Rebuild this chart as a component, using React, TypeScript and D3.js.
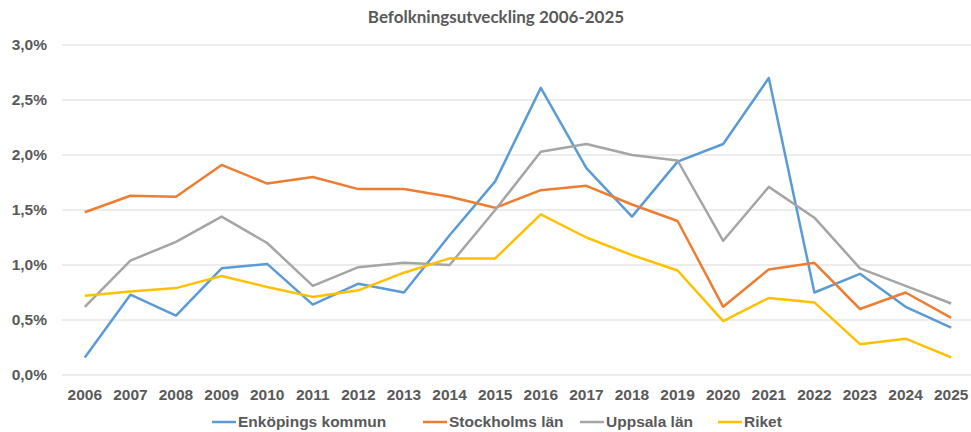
import React from 'react';
import * as d3 from 'd3';

const years = ['2006', '2007', '2008', '2009', '2010', '2011', '2012', '2013', '2014', '2015',
  '2016', '2017', '2018', '2019', '2020', '2021', '2022', '2023', '2024', '2025'];

const enkoping = [0.16, 0.73, 0.54, 0.97, 1.01, 0.64, 0.83, 0.75, 1.27, 1.76,
  2.61, 1.88, 1.44, 1.94, 2.1, 2.7, 0.75, 0.92, 0.62, 0.43];
const stockholm = [1.48, 1.63, 1.62, 1.91, 1.74, 1.8, 1.69, 1.69, 1.62, 1.52,
  1.68, 1.72, 1.55, 1.4, 0.62, 0.96, 1.02, 0.6, 0.75, 0.52];
const uppsala = [0.62, 1.04, 1.21, 1.44, 1.2, 0.81, 0.98, 1.02, 1.0, 1.5,
  2.03, 2.1, 2.0, 1.95, 1.22, 1.71, 1.43, 0.97, 0.81, 0.65];
const riket = [0.72, 0.76, 0.79, 0.9, 0.8, 0.71, 0.77, 0.93, 1.06, 1.06,
  1.46, 1.25, 1.09, 0.95, 0.49, 0.7, 0.66, 0.28, 0.33, 0.16];

const yTicks = [0, 0.5, 1, 1.5, 2, 2.5, 3];

const series = [
  { name: 'Enköpings kommun', values: enkoping, color: '#5B9BD5' },
  { name: 'Stockholms län', values: stockholm, color: '#ED7D31' },
  { name: 'Uppsala län', values: uppsala, color: '#A5A5A5' },
  { name: 'Riket', values: riket, color: '#FFC000' },
];

// legend item starting x positions
const legendX = [212, 423, 580, 718];

const W = 971;
const H = 432;
const margin = { top: 45, right: -3, bottom: 57, left: 62 };

export default function App() {
  const x = d3.scaleBand<string>()
    .domain(years)
    .range([margin.left, W - margin.right]);
  const y = d3.scaleLinear()
    .domain([0, 3])
    .range([H - margin.bottom, margin.top]);

  const line = d3.line<number>()
    .x((_, i) => (x(years[i]) as number) + x.bandwidth() / 2)
    .y(d => y(d));

  const fmt = (v: number) => v.toFixed(1).replace('.', ',') + '%';
  const textColor = '#595959';
  const font = "'Liberation Sans', Arial, sans-serif";

  return (
    <svg width={W} height={H} style={{ position: 'absolute', left: 0, top: 0, background: '#fff' }}>
      <text x={496} y={23} textAnchor="middle" fontFamily="Lato, 'Open Sans', sans-serif"
        fontWeight="bold" fontSize={17} fill={textColor}>
        Befolkningsutveckling 2006-2025
      </text>
      {yTicks.map(t => (
        <g key={t}>
          <line x1={margin.left} x2={W} y1={y(t)} y2={y(t)} stroke="#d9d9d9" strokeWidth={1} />
          <text x={47} y={y(t)} dy="0.35em" textAnchor="end" fontFamily={font}
            fontWeight="bold" fontSize={15.5} fill={textColor}>{fmt(t)}</text>
        </g>
      ))}
      {years.map(yr => (
        <text key={yr} x={(x(yr) as number) + x.bandwidth() / 2} y={400} textAnchor="middle"
          fontFamily={font} fontWeight="bold" fontSize={15.5} fill={textColor}>
          {yr}
        </text>
      ))}
      {series.map(s => (
        <path key={s.name} d={line(s.values) || ''} fill="none" stroke={s.color}
          strokeWidth={2.5} strokeLinejoin="round" />
      ))}
      {series.map((s, i) => (
        <g key={s.name} transform={`translate(${legendX[i]},422)`}>
          <line x1={0} x2={24} y1={0} y2={0} stroke={s.color} strokeWidth={2.5} />
          <text x={26} y={0} dy="0.35em" fontFamily={font}
            fontWeight="bold" fontSize={15.5} fill={textColor}>{s.name}</text>
        </g>
      ))}
    </svg>
  );
}
